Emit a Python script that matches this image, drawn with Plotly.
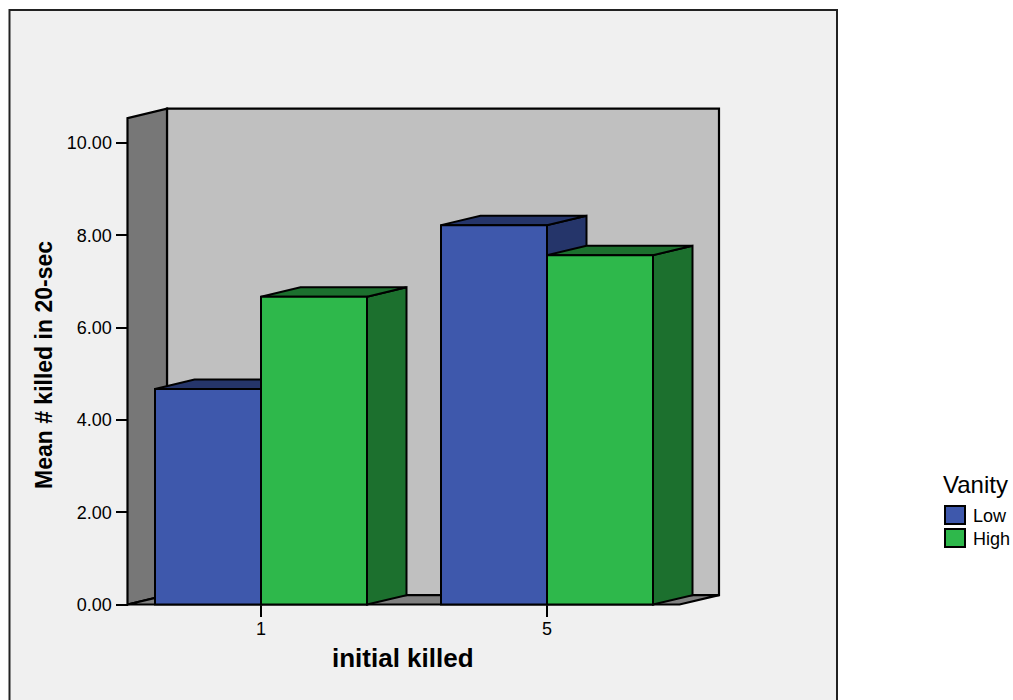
import plotly.graph_objects as go

# Chart data
categories = ["1", "5"]
low_values = [4.67, 8.22]
high_values = [6.67, 7.57]
y_ticks = [0, 2, 4, 6, 8, 10]
y_tick_labels = ["0.00", "2.00", "4.00", "6.00", "8.00", "10.00"]

# Colours of the faces
BLUE, BLUE_DARK = "#3E58AC", "#25356A"
GREEN, GREEN_DARK = "#2EB84B", "#1C702E"
BACK_WALL, SIDE_WALL, FLOOR = "#C0C0C0", "#777777", "#808080"
PANEL = "#F0F0F0"
FONT = "Liberation Sans"

W, H = 1013, 700
LEFT, RIGHT, TOP, BOTTOM = 127.5, 719.0, 109.0, 604.5
PAD = 4.0  # room around the box so its outline is not clipped
PX_PER_CATEGORY = 286.0
PX_PER_UNIT = 46.15

# Extrusion and bar sizes expressed in axis units
BAR_WIDTH = 106.0 / PX_PER_CATEGORY
DEPTH_X = 39.5 / PX_PER_CATEGORY
DEPTH_Y = 9.4 / PX_PER_UNIT
FRONT_TOP = 10.54

# Box limits in axis units, and the slightly larger axis ranges around them
x_min = (LEFT - 261.0) / PX_PER_CATEGORY
x_max = (RIGHT - 261.0) / PX_PER_CATEGORY
front_right = x_max - DEPTH_X
x_pad = PAD / PX_PER_CATEGORY
y_pad = PAD / PX_PER_UNIT
y_max = (BOTTOM - TOP) / PX_PER_UNIT


def polygon(points, fill, width=2.2):
    path = "M" + " L".join(f"{x},{y}" for x, y in points) + " Z"
    return dict(
        type="path", path=path, xref="x", yref="y", layer="below",
        fillcolor=fill, line=dict(color="black", width=width),
    )


def bar_faces(left, value, top_color, side_color):
    right = left + BAR_WIDTH
    side = [(right, 0), (right + DEPTH_X, DEPTH_Y),
            (right + DEPTH_X, value + DEPTH_Y), (right, value)]
    top = [(left, value), (left + DEPTH_X, value + DEPTH_Y),
           (right + DEPTH_X, value + DEPTH_Y), (right, value)]
    return [polygon(side, side_color, 2), polygon(top, top_color, 2)]


shapes = [
    # Panel behind the whole chart
    dict(type="rect", xref="paper", yref="paper", layer="below",
         x0=9.5 / W, x1=837 / W, y0=-0.02, y1=1 - 10 / H,
         fillcolor=PANEL, line=dict(color="#222222", width=2)),
    # Back wall, side wall and floor of the box
    polygon([(x_min + DEPTH_X, DEPTH_Y), (x_max, DEPTH_Y),
             (x_max, FRONT_TOP + DEPTH_Y), (x_min + DEPTH_X, FRONT_TOP + DEPTH_Y)], BACK_WALL),
    polygon([(x_min, 0), (x_min + DEPTH_X, DEPTH_Y),
             (x_min + DEPTH_X, FRONT_TOP + DEPTH_Y), (x_min, FRONT_TOP)], SIDE_WALL),
    polygon([(x_min, 0), (x_min + DEPTH_X, DEPTH_Y),
             (x_max, DEPTH_Y), (front_right, 0)], FLOOR),
]

# Top and side faces, low series first so the high series overlaps it
for i in range(len(categories)):
    shapes += bar_faces(i - BAR_WIDTH, low_values[i], BLUE_DARK, BLUE_DARK)
for i in range(len(categories)):
    shapes += bar_faces(i, high_values[i], GREEN_DARK, GREEN_DARK)

fig = go.Figure()
positions = list(range(len(categories)))
for name, values, color, offset in [("Low", low_values, BLUE, -BAR_WIDTH),
                                    ("High", high_values, GREEN, 0)]:
    fig.add_trace(go.Bar(
        x=positions, y=values, name=name, width=BAR_WIDTH, offset=offset,
        marker=dict(color=color, line=dict(color="black", width=2)),
        showlegend=False,
    ))

# Legend swatches next to the plot panel
for y0, color in [(506, BLUE), (529, GREEN)]:
    shapes.append(dict(type="rect", xref="paper", yref="paper",
                       x0=945 / W, x1=965 / W, y0=1 - (y0 + 18) / H, y1=1 - y0 / H,
                       fillcolor=color, line=dict(color="black", width=2)))


def label(text, px, py, size, bold=False, angle=0, xanchor="center"):
    return dict(
        text=f"<b>{text}</b>" if bold else text, xref="paper", yref="paper",
        x=px / W, y=1 - py / H, showarrow=False, textangle=angle,
        xanchor=xanchor, yanchor="middle",
        font=dict(family=FONT, size=size, color="black"),
    )


annotations = [
    label("initial killed", 403, 658, 26, bold=True),
    label("Mean # killed in 20-sec", 44, 365, 23, bold=True, angle=-90),
    label("Vanity", 941, 484, 24, xanchor="left"),
    label("Low", 971, 516, 18, xanchor="left"),
    label("High", 971, 539, 18, xanchor="left"),
]

fig.update_layout(
    width=W, height=H, margin=dict(l=0, r=0, t=0, b=0),
    paper_bgcolor="white", plot_bgcolor="rgba(0,0,0,0)",
    barmode="overlay", showlegend=False,
    font=dict(family=FONT, color="black"),
    shapes=shapes, annotations=annotations,
    xaxis=dict(
        domain=[(LEFT - PAD) / W, (RIGHT + PAD) / W],
        range=[x_min - x_pad, x_max + x_pad],
        anchor="free", position=1 - BOTTOM / H, showgrid=False,
        automargin=False, zeroline=False, showline=False, tickmode="array",
        tickvals=positions, ticktext=categories, ticks="outside", ticklen=11,
        tickwidth=2, tickcolor="black", ticklabelstandoff=-3,
        tickfont=dict(size=18, family=FONT),
    ),
    yaxis=dict(
        domain=[1 - (BOTTOM + PAD) / H, 1 - (TOP - PAD) / H],
        range=[-y_pad, y_max + y_pad],
        anchor="free", position=LEFT / W, showgrid=False,
        automargin=False, zeroline=False, showline=False, tickmode="array",
        tickvals=y_ticks, ticktext=y_tick_labels, ticks="outside", ticklen=12,
        tickwidth=2, tickcolor="black", tickfont=dict(size=18, family=FONT),
    ),
)

fig.write_html("out.html")
